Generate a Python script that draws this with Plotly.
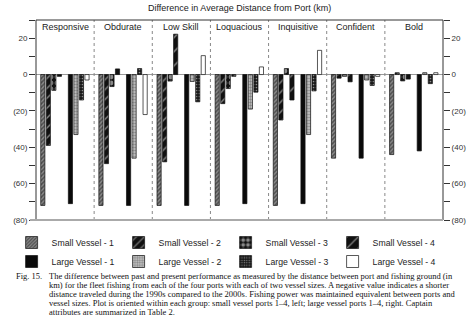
import plotly.graph_objects as go

# Captain attribute groups along the x axis
groups = ["Responsive", "Obdurate", "Low Skill", "Loquacious",
          "Inquisitive", "Confident", "Bold"]

series_names = ["Small Vessel - 1", "Small Vessel - 2", "Small Vessel - 3", "Small Vessel - 4",
                "Large Vessel - 1", "Large Vessel - 2", "Large Vessel - 3", "Large Vessel - 4"]

# Change in average distance from port (km), one value per group
small_1 = [-72, -72, -72, -72, -72, -46, -44]
small_2 = [-39, -49, -48, -16, -25, -2, 1]
small_3 = [-8.7, -6.6, -3.6, -7.7, 3.3, -1, -3.5]
small_4 = [-1, 3.1, 22.2, -1, -14, -4, -2.5]
large_1 = [-71, -72, -72, -71, -71, -46, -42]
large_2 = [-33, -46, -3.8, -19, -33, -3, 1]
large_3 = [-14, 3.3, -15, -9.7, -9, -6, -5]
large_4 = [-3, -22, 10.4, 4.2, 13.3, -1, 1]

y_tick_vals = [20, 0, -20, -40, -60, -80]
y_tick_text = ["20", "0", "(20)", "(40)", "(60)", "(80)"]

caption_lines = [
    "The difference between past and present performance as measured by the distance between port and fishing ground (in",
    "km) for the fleet fishing from each of the four ports with each of two vessel sizes. A negative value indicates a shorter",
    "distance traveled during the 1990s compared to the 2000s. Fishing power was maintained equivalent between ports and",
    "vessel sizes. Plot is oriented within each group: small vessel ports 1\u20134, left; large vessel ports 1\u20134, right. Captain",
    "attributes are summarized in Table 2.",
]

all_series = [small_1, small_2, small_3, small_4, large_1, large_2, large_3, large_4]

# fill styles for each series
styles = [
    dict(color="#777", pattern=dict(shape="/", fgcolor="#111", bgcolor="#8a8a8a", size=3, solidity=0.5)),
    dict(color="#111", pattern=dict(shape="/", fgcolor="#ffffff", bgcolor="#111", size=7, solidity=0.2)),
    dict(color="#111", pattern=dict(shape=".", fgcolor="#ffffff", bgcolor="#111", size=6, solidity=0.5)),
    dict(color="#111", pattern=dict(shape="/", fgcolor="#ffffff", bgcolor="#111", size=10, solidity=0.15)),
    dict(color="#0a0a0a"),
    dict(color="#9a9a9a", pattern=dict(shape=".", fgcolor="#444", bgcolor="#c8c8c8", size=3, solidity=0.5)),
    dict(color="#222", pattern=dict(shape=".", fgcolor="#ffffff", bgcolor="#1a1a1a", size=3, solidity=0.25)),
    dict(color="#ffffff"),
]

# slot index within a group: four small-vessel bars, a gap, four large-vessel bars
slots = [0, 1, 2, 3, 5, 6, 7, 8]
first_offset = 0.117
slot_step = 0.095
bar_w = 0.072

FONT = "Arial, Liberation Sans, sans-serif"
TXT = "#222"

fig = go.Figure()
for name, vals, slot, st in zip(series_names, all_series, slots, styles):
    xs = [g + first_offset + slot * slot_step for g in range(len(groups))]
    marker = dict(color=st["color"], line=dict(color="#111", width=0.7))
    if "pattern" in st:
        marker["pattern"] = st["pattern"]
    fig.add_trace(go.Bar(x=xs, y=vals, width=bar_w, name=name, marker=marker))

# invisible trace so the right-hand axis is drawn
fig.add_trace(go.Scatter(x=[0], y=[0], yaxis="y2", mode="markers",
                         marker=dict(opacity=0), showlegend=False, hoverinfo="skip"))

shapes = []
# dotted separators between groups
for g in range(1, len(groups)):
    shapes.append(dict(type="line", xref="x", yref="paper", x0=g, x1=g, y0=0, y1=1,
                       line=dict(color="#888", width=1, dash="dot")))
# plot frame
shapes.append(dict(type="rect", xref="paper", yref="paper", x0=0, x1=1, y0=0, y1=1,
                   line=dict(color="#333", width=1)))
shapes.append(dict(type="line", xref="paper", yref="paper", x0=-0.015, x1=1, y0=0, y1=0,
                   line=dict(color="#aaa", width=2)))

annotations = []
for g, name in enumerate(groups):
    annotations.append(dict(x=g + 0.5, y=0.965, xref="x", yref="paper", text=name,
                            showarrow=False, xanchor="center", yanchor="middle",
                            font=dict(family=FONT, size=9, color=TXT)))
annotations.append(dict(x=0.5, y=1.06, xref="paper", yref="paper",
                        text="Difference in Average Distance from Port (km)",
                        showarrow=False, xanchor="center", yanchor="middle",
                        font=dict(family=FONT, size=9, color=TXT)))

# caption placed with pixel-based paper coordinates
plot_l, plot_w, plot_b, plot_h = 26, 417, 220, 200
def px_x(p):
    return (p - plot_l) / plot_w
def px_y(p):
    return (plot_b - p) / plot_h

SERIF = "Liberation Serif, Times New Roman, serif"
annotations.append(dict(x=px_x(3), y=px_y(276), xref="paper", yref="paper", text="Fig. 15.",
                        showarrow=False, xanchor="left", yanchor="middle",
                        font=dict(family=SERIF, size=8.5, color="#111")))
for i, line in enumerate(caption_lines):
    annotations.append(dict(x=px_x(37), y=px_y(276 + i * 9.1), xref="paper", yref="paper",
                            text=line, showarrow=False, xanchor="left", yanchor="middle",
                            font=dict(family=SERIF, size=8.5, color="#111")))

yaxis_common = dict(range=[-80, 30], tickvals=y_tick_vals, ticktext=y_tick_text,
                    ticks="outside", ticklen=6, tickcolor="#333", showgrid=False,
                    automargin=False, ticklabelposition="outside",
                    tickfont=dict(family=FONT, size=8, color="#333"),
                    minor=dict(dtick=10, tick0=0, ticks="outside", ticklen=6, tickcolor="#333"))

fig.update_layout(
    width=468, height=330,
    margin=dict(l=26, r=25, t=20, b=110),
    paper_bgcolor="white", plot_bgcolor="white",
    barmode="overlay",
    showlegend=True,
    xaxis=dict(range=[0, len(groups)], showticklabels=False, ticks="", showgrid=False,
               zeroline=False, showline=False, automargin=False),
    yaxis=dict(zeroline=True, zerolinecolor="#999", zerolinewidth=1, showline=False,
               side="left", **yaxis_common),
    yaxis2=dict(overlaying="y", side="right", anchor="x", zeroline=False, showline=False,
                **yaxis_common),
    legend=dict(orientation="h", x=px_x(1), y=px_y(228), xanchor="left", yanchor="top",
                entrywidth=62, entrywidthmode="pixels",
                font=dict(family=FONT, size=8.7, color=TXT), bgcolor="rgba(0,0,0,0)"),
    shapes=shapes,
    annotations=annotations,
)

fig.write_html("out.html")
